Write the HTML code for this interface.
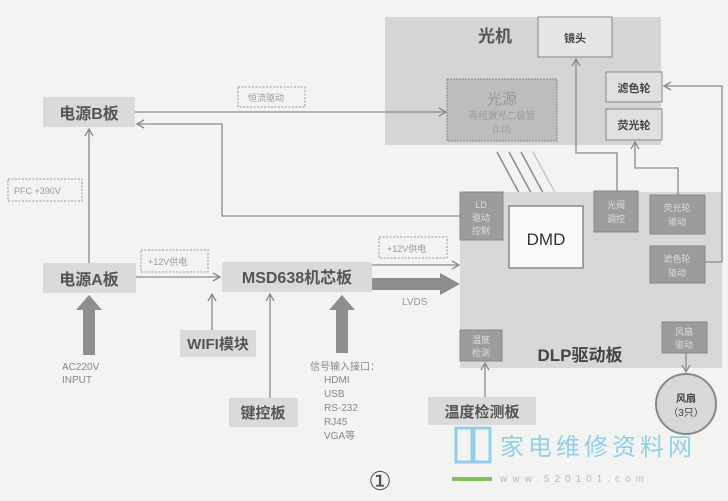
<!DOCTYPE html>
<html><head><meta charset="utf-8"><style>
html,body{margin:0;padding:0;background:#f3f3f1;}
svg{display:block;font-family:"Liberation Sans","Noto Sans CJK SC",sans-serif;}
</style></head><body>
<svg width="728" height="501" viewBox="0 0 728 501" xmlns="http://www.w3.org/2000/svg">
<defs>
<marker id="a" markerWidth="10" markerHeight="10" refX="8" refY="5" orient="auto" markerUnits="userSpaceOnUse"><path d="M1,1 L8,5 L1,9" fill="none" stroke="#8a8a8a" stroke-width="1.3"/></marker>
</defs>
<rect width="728" height="501" fill="#f3f3f1"/>
<rect x="385" y="17" width="276" height="128" fill="#d5d5d3"/>
<text x="478" y="42" font-size="17" font-weight="bold" fill="#555">光机</text>
<rect x="538" y="17" width="74" height="40" fill="#e6e6e4" stroke="#888" stroke-width="1"/>
<text x="575" y="42" font-size="11" text-anchor="middle" fill="#444" font-weight="bold">镜头</text>
<rect x="447" y="79" width="110" height="62" fill="#bdbdbb" stroke="#888" stroke-dasharray="2,1"/>
<text x="502" y="104" font-size="15" text-anchor="middle" fill="#999">光源</text>
<text x="502" y="119" font-size="9.5" text-anchor="middle" fill="#999">两组激光二极管</text>
<text x="502" y="132" font-size="9.5" text-anchor="middle" fill="#999">(LD)</text>
<rect x="606" y="72" width="56" height="30" fill="#e0e0de" stroke="#888"/>
<text x="634" y="92" font-size="11" text-anchor="middle" fill="#444" font-weight="bold">滤色轮</text>
<rect x="606" y="109" width="56" height="31" fill="#e0e0de" stroke="#888"/>
<text x="634" y="129" font-size="11" text-anchor="middle" fill="#444" font-weight="bold">荧光轮</text>
<g stroke="#8a8a8a" stroke-width="1.5">
<line x1="497" y1="152" x2="525" y2="204"/><line x1="509" y1="152" x2="537" y2="204"/><line x1="521" y1="152" x2="549" y2="204"/>
<line x1="533" y1="152" x2="559" y2="200" stroke="#c8c8c8"/></g>
<rect x="460" y="192" width="262" height="176" fill="#d8d8d6"/>
<rect x="460" y="192" width="43" height="48" fill="#9c9c9a" stroke="#888"/>
<text x="481" y="208" font-size="9" text-anchor="middle" fill="#ddd">LD</text>
<text x="481" y="221" font-size="9" text-anchor="middle" fill="#ddd">驱动</text>
<text x="481" y="234" font-size="9" text-anchor="middle" fill="#ddd">控制</text>
<rect x="509" y="206" width="74" height="62" fill="#fafafa" stroke="#888" stroke-width="1.5"/>
<text x="546" y="245" font-size="17" text-anchor="middle" fill="#333">DMD</text>
<rect x="594" y="191" width="44" height="41" fill="#9c9c9a" stroke="#888"/>
<text x="616" y="208" font-size="9" text-anchor="middle" fill="#ddd">光阀</text>
<text x="616" y="222" font-size="9" text-anchor="middle" fill="#ddd">调控</text>
<rect x="650" y="195" width="55" height="39" fill="#9c9c9a" stroke="#888"/>
<text x="677" y="211" font-size="9" text-anchor="middle" fill="#ddd">荧光轮</text>
<text x="677" y="225" font-size="9" text-anchor="middle" fill="#ddd">驱动</text>
<rect x="650" y="246" width="55" height="37" fill="#9c9c9a" stroke="#888"/>
<text x="677" y="262" font-size="9" text-anchor="middle" fill="#ddd">滤色轮</text>
<text x="677" y="276" font-size="9" text-anchor="middle" fill="#ddd">驱动</text>
<rect x="662" y="322" width="45" height="31" fill="#9c9c9a" stroke="#888"/>
<text x="684" y="335" font-size="9" text-anchor="middle" fill="#ddd">风扇</text>
<text x="684" y="348" font-size="9" text-anchor="middle" fill="#ddd">驱动</text>
<rect x="460" y="330" width="42" height="31" fill="#9c9c9a" stroke="#888"/>
<text x="481" y="343" font-size="9" text-anchor="middle" fill="#ddd">温度</text>
<text x="481" y="356" font-size="9" text-anchor="middle" fill="#ddd">检测</text>
<text x="580" y="361" font-size="17" font-weight="bold" text-anchor="middle" fill="#444">DLP驱动板</text>
<circle cx="686" cy="404" r="30" fill="#d8d8d6" stroke="#888" stroke-width="2"/>
<text x="686" y="402" font-size="10" text-anchor="middle" fill="#444" font-weight="bold">风扇</text>
<text x="686" y="416" font-size="10" text-anchor="middle" fill="#444">（3只）</text>
<rect x="43" y="97" width="92" height="30" fill="#dadad8"/>
<text x="89" y="119" font-size="16" font-weight="bold" text-anchor="middle" fill="#555">电源B板</text>
<rect x="43" y="263" width="93" height="30" fill="#dadad8"/>
<text x="89" y="285" font-size="16" font-weight="bold" text-anchor="middle" fill="#555">电源A板</text>
<rect x="222" y="262" width="150" height="30" fill="#dadad8"/>
<text x="297" y="283" font-size="16" font-weight="bold" text-anchor="middle" fill="#555">MSD638机芯板</text>
<rect x="180" y="330" width="76" height="27" fill="#dadad8"/>
<text x="218" y="349" font-size="15" font-weight="bold" text-anchor="middle" fill="#555">WIFI模块</text>
<rect x="229" y="398" width="69" height="29" fill="#dadad8"/>
<text x="263" y="418" font-size="15" font-weight="bold" text-anchor="middle" fill="#555">键控板</text>
<rect x="428" y="397" width="108" height="28" fill="#dadad8"/>
<text x="482" y="417" font-size="15" font-weight="bold" text-anchor="middle" fill="#555">温度检测板</text>
<g fill="none" stroke="#999" stroke-dasharray="2,1.5">
<rect x="8" y="179" width="74" height="22"/><rect x="141" y="250" width="67" height="22"/>
<rect x="238" y="87" width="67" height="20"/><rect x="379" y="237" width="68" height="21"/></g>
<g font-size="9" fill="#999">
<text x="14" y="194">PFC +390V</text><text x="148" y="265">+12V供电</text>
<text x="248" y="101">恒流驱动</text><text x="387" y="252">+12V供电</text>
<text x="402" y="305" font-size="10">LVDS</text></g>
<g fill="none" stroke="#8a8a8a" stroke-width="1.3">
<line x1="135" y1="112" x2="446" y2="112" marker-end="url(#a)"/>
<polyline points="460,216 222,216 222,124 137,124" marker-end="url(#a)"/>
<line x1="89" y1="263" x2="89" y2="129" marker-end="url(#a)"/>
<line x1="136" y1="277" x2="220" y2="277" marker-end="url(#a)"/>
<line x1="372" y1="265" x2="459" y2="265" marker-end="url(#a)"/>
<line x1="212" y1="330" x2="212" y2="294" marker-end="url(#a)"/>
<line x1="270" y1="398" x2="270" y2="294" marker-end="url(#a)"/>
<line x1="485" y1="397" x2="485" y2="363" marker-end="url(#a)"/>
<line x1="686" y1="353" x2="686" y2="372" marker-end="url(#a)"/>
<polyline points="617,191 617,153 576,153 576,59" marker-end="url(#a)"/>
<polyline points="678,195 678,168 635,168 635,142" marker-end="url(#a)"/>
<polyline points="705,262 722,262 722,86 664,86" marker-end="url(#a)"/>
</g>
<g fill="#8e8e8c">
<polygon points="372,278 440,278 440,273 460,284 440,295 440,290 372,290"/>
<polygon points="83,355 95,355 95,310 102,310 89,295 76,310 83,310"/>
<polygon points="336,353 348,353 348,310 355,310 342,295 329,310 336,310"/>
</g>
<g font-size="10" fill="#888">
<text x="62" y="370">AC220V</text><text x="62" y="383">INPUT</text>
<text x="310" y="370">信号输入接口：</text><text x="324" y="383">HDMI</text><text x="324" y="397">USB</text>
<text x="324" y="411">RS-232</text><text x="324" y="425">RJ45</text><text x="324" y="439">VGA等</text>
</g>
<text x="380" y="490" font-size="26" text-anchor="middle" fill="#555" font-family="Liberation Serif,serif">①</text>
<g fill="none" stroke="#8fd0e8" stroke-width="3"><rect x="456" y="428" width="16" height="34"/><rect x="474" y="428" width="16" height="34"/></g>
<rect x="452" y="477" width="40" height="4" fill="#7bc25a"/>
<text x="500" y="455" font-size="24" fill="#8fd0e8" letter-spacing="4">家电维修资料网</text>
<text x="500" y="482" font-size="10" fill="#bbb" letter-spacing="5">www.520101.com</text>
</svg>
</body></html>
